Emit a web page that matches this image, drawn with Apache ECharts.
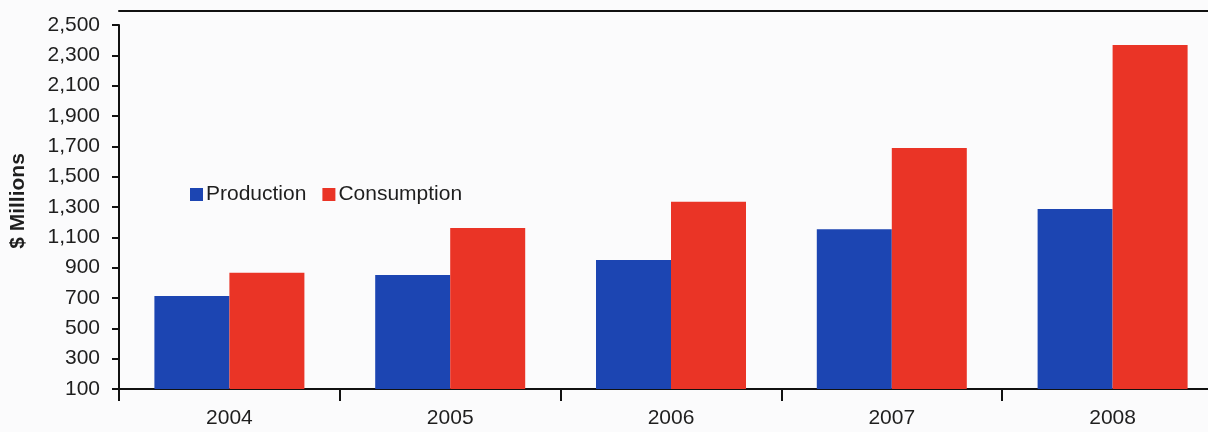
<!DOCTYPE html>
<html>
<head>
<meta charset="utf-8">
<script src="https://cdn.jsdelivr.net/npm/echarts@6/dist/echarts.min.js"></script>
<style>
  html, body { margin: 0; padding: 0; background: #fbfbfc; overflow: hidden; }
  /* the plot area runs on past the right edge of the window */
  #chart { width: 1223px; height: 432px; }
</style>
</head>
<body>
<div id="chart"></div>
<script>
// Annual values, $ millions
const years = ['2004', '2005', '2006', '2007', '2008'];
const production = [713, 852, 951, 1153, 1287];
const consumption = [867, 1162, 1335, 1689, 2368];

// Value axis range and step
const yMin = 100;
const yMax = 2500;
const yStep = 200;

const font = '"Liberation Sans", Arial, sans-serif';
const ink = '#1e1e1e';

const chart = echarts.init(document.getElementById('chart'), null, { renderer: 'canvas' });

chart.setOption({
  backgroundColor: '#fbfbfc',
  animation: false,
  textStyle: { fontFamily: font, color: ink },
  legend: {
    left: 185,
    top: 179,
    itemWidth: 13,
    itemHeight: 13,
    itemGap: 16,
    icon: 'rect',
    textStyle: { fontFamily: font, fontSize: 21, color: ink, padding: [0, 0, 0, -2] },
    data: ['Production', 'Consumption']
  },
  grid: { left: 118, right: 0, top: 25, bottom: 43, containLabel: false },
  xAxis: [
    {
      type: 'category',
      data: years,
      position: 'bottom',
      axisLine: { lineStyle: { color: '#111', width: 2 } },
      axisTick: { show: true, length: 12, lineStyle: { color: '#111', width: 2 } },
      axisLabel: { fontFamily: font, fontSize: 21, color: ink, margin: 19 }
    },
    {
      // top frame line of the plot
      type: 'category',
      data: years,
      position: 'top',
      offset: 14,
      axisLine: { show: true, lineStyle: { color: '#111', width: 2 } },
      axisTick: { show: false },
      axisLabel: { show: false }
    }
  ],
  yAxis: {
    type: 'value',
    min: yMin,
    max: yMax,
    interval: yStep,
    name: '$ Millions',
    nameLocation: 'middle',
    nameGap: 90,
    nameTextStyle: {
      fontFamily: font, fontSize: 21, fontWeight: 'bold', color: ink,
      padding: [0, 0, 0, 12]
    },
    axisLine: { show: true, lineStyle: { color: '#111', width: 2 } },
    axisTick: { show: true, length: 7, lineStyle: { color: '#111', width: 2 } },
    splitLine: { show: false },
    axisLabel: {
      fontFamily: font,
      fontSize: 21,
      color: ink,
      margin: 19,
      formatter: v => v.toLocaleString('en-US')
    }
  },
  series: [
    {
      name: 'Production',
      type: 'bar',
      data: production,
      barWidth: 75,
      barGap: '0%',
      itemStyle: { color: '#1c45b2' }
    },
    {
      name: 'Consumption',
      type: 'bar',
      data: consumption,
      barWidth: 75,
      barGap: '0%',
      itemStyle: { color: '#ea3426' }
    }
  ]
});
</script>
</body>
</html>
